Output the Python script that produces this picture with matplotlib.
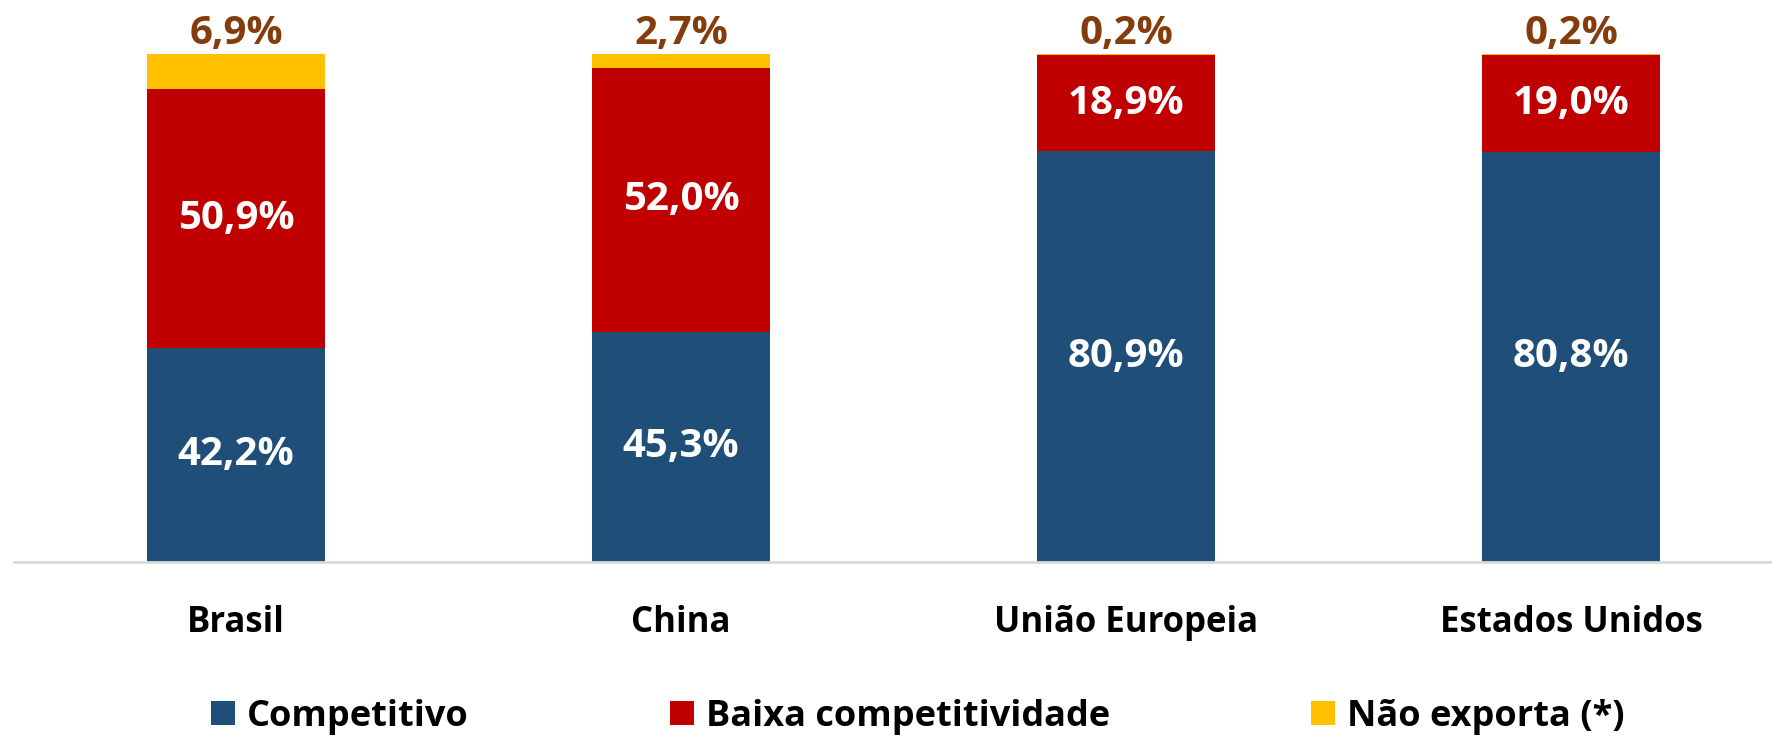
"""Stacked bars: competitividade das exportações"""
import matplotlib
matplotlib.use("Agg")
import matplotlib.pyplot as plt
import numpy as np

plt.rcParams['font.family'] = ['Open Sans', 'DejaVu Sans']
plt.rcParams['font.weight'] = 'bold'

regioes = ["Brasil", "China", "União Europeia", "Estados Unidos"]
competitivo = [42.2, 45.3, 80.9, 80.8]
baixa_comp = [50.9, 52.0, 18.9, 19.0]
nao_exporta = [6.9, 2.7, 0.2, 0.2]
series_nomes = ["Competitivo", "Baixa competitividade", "Não exporta (*)"]

cores = ["#1F4E79", "#C00000", "#FFC000"]
cor_topo = "#843C0C"


def fmt(v):
    return f"{v:.1f}%".replace(".", ",")


W, H = 1772, 736
fig = plt.figure(figsize=(W / 100, H / 100), dpi=100)
# axes extends past the right edge, like the original
ax = fig.add_axes([13.5 / W, (H - 562) / H, 1780 / W, 508 / H])

x = np.arange(len(regioes))
largura = 0.4
b1 = ax.bar(x, competitivo, largura, color=cores[0], label=series_nomes[0])
b2 = ax.bar(x, baixa_comp, largura, bottom=competitivo, color=cores[1],
            label=series_nomes[1])
base3 = np.array(competitivo) + np.array(baixa_comp)
b3 = ax.bar(x, nao_exporta, largura, bottom=base3, color=cores[2],
            label=series_nomes[2])

ax.set_xlim(-0.5, len(regioes) - 0.5)
ax.set_ylim(0, 100)

# labels inside
for i in range(len(regioes)):
    ax.text(x[i], competitivo[i] / 2, fmt(competitivo[i]), ha='center',
            va='center', color='white', fontsize=29, fontweight='bold')
    ax.text(x[i], competitivo[i] + baixa_comp[i] / 2, fmt(baixa_comp[i]),
            ha='center', va='center', color='white', fontsize=29,
            fontweight='bold')
    ax.annotate(fmt(nao_exporta[i]), (x[i], base3[i] + nao_exporta[i]),
                xytext=(0, 15), textcoords='offset points', ha='center',
                va='center', color=cor_topo, fontsize=29, fontweight='bold',
                annotation_clip=False)

for s in ['top', 'right', 'left']:
    ax.spines[s].set_visible(False)
ax.spines['bottom'].set_color('#D9D9D9')
ax.spines['bottom'].set_linewidth(2)
ax.set_yticks([])
ax.set_xticks(x)
ax.set_xticklabels(regioes, fontsize=25, fontweight='bold')
ax.tick_params(axis='x', length=0, pad=31)

fig.legend(handles=[b1, b2, b3], loc='center',
           bbox_to_anchor=(0.518, 1 - 717 / H), ncol=3, frameon=False,
           handlelength=0.66, handleheight=0.66,
           handletextpad=0.33, columnspacing=5.58,
           prop={'weight': 'bold', 'size': 26})

fig.savefig("out.png", dpi=100)
